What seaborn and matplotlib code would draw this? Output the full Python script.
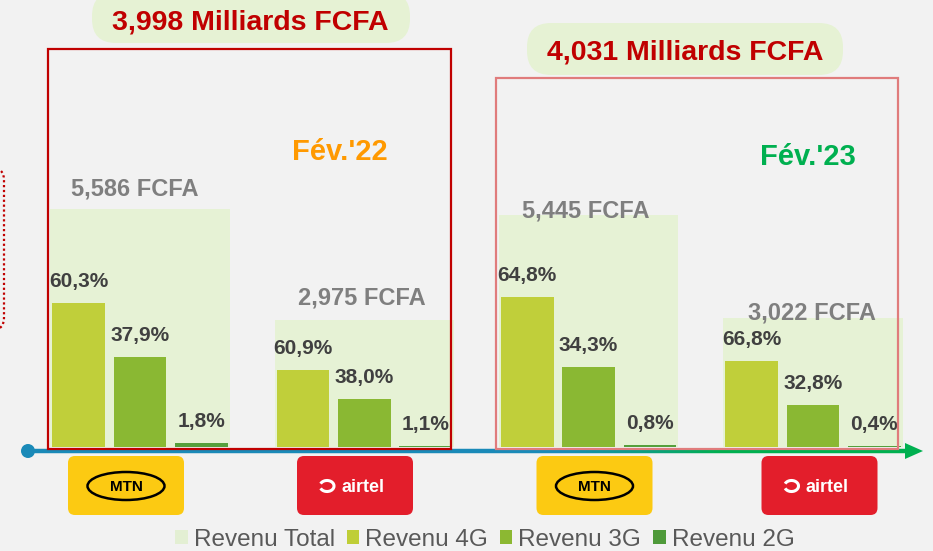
import numpy as np
import pandas as pd
import matplotlib
matplotlib.use("Agg")
import matplotlib.pyplot as plt
import seaborn as sns
from matplotlib.patches import FancyBboxPatch, Ellipse, Circle, Polygon, Patch, Arc
from matplotlib.collections import LineCollection
from matplotlib.colors import to_rgb

# data
groups = ["MTN Fév.'22", "Airtel Fév.'22", "MTN Fév.'23", "Airtel Fév.'23"]
operators = ["MTN", "airtel", "MTN", "airtel"]
revenu_total = [5586, 2975, 5445, 3022]          # FCFA
techs = ["Revenu 4G", "Revenu 3G", "Revenu 2G"]
pct_4g = [60.3, 60.9, 64.8, 66.8]
pct_3g = [37.9, 38.0, 34.3, 32.8]
pct_2g = [1.8, 1.1, 0.8, 0.4]
periods = ["Fév.'22", "Fév.'23"]
market_totals = ["3,998", "4,031"]               # Milliards FCFA

# colours
bg = "#f2f2f2"
c_total = "#e6f2d5"
c_tech = ["#c0cf3a", "#8ab833", "#55a03c"]
c_legend = ["#e3efd3", "#bfce37", "#8cb832", "#4f9a3a"]

sns.set_style("white")
plt.rcParams["font.family"] = ["Liberation Sans", "DejaVu Sans"]

W, H = 933, 551
fig = plt.figure(figsize=(W / 100, H / 100), dpi=100, facecolor=bg)

# main axes: baseline at pixel 447
ax = fig.add_axes([0, (H - 447) / H, 1, (447 - 40) / H])
ax.set_facecolor("none")

pcts = {"Revenu 4G": pct_4g, "Revenu 3G": pct_3g, "Revenu 2G": pct_2g}
rows = []
for t in techs:
    for g, tot, p in zip(groups, revenu_total, pcts[t]):
        rows.append({"group": g, "tech": t, "pct": p, "value": tot * p / 100})
df = pd.DataFrame(rows)
df_tot = pd.DataFrame({"group": groups, "total": revenu_total})

sns.barplot(data=df_tot, x="group", y="total", order=groups, color=c_total,
            saturation=1, width=0.80, linewidth=0, ax=ax)
sns.barplot(data=df, x="group", y="value", hue="tech", order=groups,
            hue_order=techs, palette=c_tech, saturation=1, width=0.82,
            gap=0.14, linewidth=0, legend=False, ax=ax)

ax.set_xlim(-140 / 224.3, 793 / 224.3)
ax.set_ylim(0, 9550)
ax.axis("off")

# percent labels
slot = 0.82 / 3
for j, t in enumerate(techs):
    sub = df[df.tech == t]
    for i, (_, r) in enumerate(sub.iterrows()):
        ax.annotate(f"{r.pct:.1f}".replace(".", ",") + "%",
                    (i + (j - 1) * slot, r.value), xytext=(0, 15.5),
                    textcoords="offset points", ha="center", va="center",
                    fontsize=15, fontweight="bold", color="#404040")

# total labels
tot_offsets = [(-4, 14), (-2, 16), (-2, 2.5), (-1, 4)]
for i, tot in enumerate(revenu_total):
    ax.annotate(f"{tot:,} FCFA", (i, tot), xytext=tot_offsets[i],
                textcoords="offset points", ha="center", va="center",
                fontsize=17, fontweight="bold", color="#7f7f7f")

# overlay in pixel coordinates for decorations
ov = fig.add_axes([0, 0, 1, 1])
ov.set_xlim(0, W)
ov.set_ylim(H, 0)
ov.axis("off")
ov.set_facecolor("none")

# left dotted shape (cut off)
ov.add_patch(FancyBboxPatch((-60, 168), 64, 162, boxstyle="round,pad=0,rounding_size=12",
                            fc="none", ec="#c00000", lw=1.6, ls=(0, (1, 1.2))))

# axis line with gradient
xs = np.linspace(28, 907, 160)
c1, c2 = np.array(to_rgb("#1a8ab8")), np.array(to_rgb("#00b050"))
segs, cols = [], []
for a, b in zip(xs[:-1], xs[1:]):
    f = np.clip(((a + b) / 2 - 560) / 160, 0, 1)
    segs.append([(a, 451), (b, 451)])
    cols.append(c1 * (1 - f) + c2 * f)
ov.add_collection(LineCollection(segs, colors=cols, linewidths=3.2, capstyle="butt"))
ov.add_patch(Polygon([(905, 443), (923, 451), (905, 459)], closed=True, fc="#00b050", ec="none"))
ov.add_patch(Circle((28, 451), 7, fc="#1a8ab8", ec="none"))

# red frames
ov.add_patch(plt.Rectangle((48, 49), 403, 400, fc="none", ec="#c00000", lw=1.6, zorder=5))
ov.add_patch(plt.Rectangle((496, 78), 402, 371, fc="none", ec="#e07c7c", lw=1.6, zorder=5))

# pills with market totals
for (x0, y0, w, h), txt, (tx, ty) in zip(
        [(92, -8, 318, 51), (527, 23, 316, 52)], market_totals, [(250, 22), (685, 52)]):
    ov.add_patch(FancyBboxPatch((x0, y0), w, h, boxstyle="round,pad=0,rounding_size=24",
                                fc="#e6f2d4", ec="none"))
    ov.text(tx, ty, f"{txt} Milliards FCFA", ha="center", va="center",
            fontsize=20.5, fontweight="bold", color="#c00000")

# period labels
ov.text(340, 152, periods[0], ha="center", va="center", fontsize=21,
        fontweight="bold", color="#ff9900")
ov.text(808, 157, periods[1], ha="center", va="center", fontsize=21,
        fontweight="bold", color="#00b050")

# operator logos
for cx, op in zip([126, 355, 594.5, 819.5], operators):
    if op == "MTN":
        ov.add_patch(FancyBboxPatch((cx - 58, 456), 116, 59, boxstyle="round,pad=0,rounding_size=7",
                                    fc="#fcca12", ec="none"))
        ov.add_patch(Ellipse((cx, 486), 77, 28, fc="none", ec="black", lw=1.8))
        ov.text(cx, 487, "MTN", ha="center", va="center", fontsize=11,
                fontweight="bold", color="black")
    else:
        ov.add_patch(FancyBboxPatch((cx - 58, 456), 116, 59, boxstyle="round,pad=0,rounding_size=7",
                                    fc="#e31e2b", ec="none"))
        ov.add_patch(Arc((cx - 28, 486), 14, 11, theta1=200, theta2=520, color="white", lw=2.2))
        ov.text(cx + 8, 487, "airtel", ha="center", va="center", fontsize=13,
                fontweight="bold", color="white")

# legend
handles = [Patch(fc=c, ec="none") for c in c_legend]
fig.legend(handles, ["Revenu Total"] + techs, loc="center", ncol=4,
           bbox_to_anchor=(485 / W, 1 - 540 / H), frameon=False, fontsize=17.5,
           labelcolor="#595959", handlelength=0.5, handleheight=0.5,
           handletextpad=0.25, columnspacing=0.5, borderaxespad=0)

fig.savefig("out.png", dpi=100, facecolor=bg)
